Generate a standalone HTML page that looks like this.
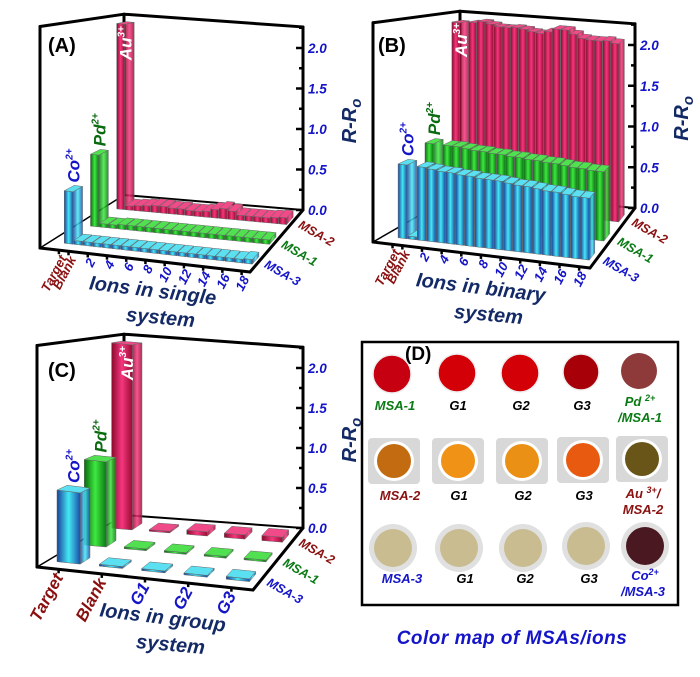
<!DOCTYPE html>
<html><head><meta charset="utf-8">
<style>
html,body{margin:0;padding:0;background:#fff;}
svg{display:block;font-family:"Liberation Sans",sans-serif;}
.tk{font-weight:bold;font-style:italic;fill:#1414c8;font-size:13.5px;}
.ttl{font-weight:900;font-style:italic;fill:#142a66;font-size:20px;}
</style></head>
<body>
<svg id="fig" width="700" height="677" viewBox="0 0 700 677" xmlns="http://www.w3.org/2000/svg">
<defs>
<linearGradient id="gC" x1="0" x2="1" y1="0" y2="0"><stop offset="0" stop-color="#1a3f9a"/><stop offset="0.5" stop-color="#44e8f4"/><stop offset="1" stop-color="#1a4fa8"/></linearGradient>
<linearGradient id="gP" x1="0" x2="1" y1="0" y2="0"><stop offset="0" stop-color="#0a6a10"/><stop offset="0.5" stop-color="#3ee840"/><stop offset="1" stop-color="#0b7a12"/></linearGradient>
<linearGradient id="gA" x1="0" x2="1" y1="0" y2="0"><stop offset="0" stop-color="#8a0a2c"/><stop offset="0.5" stop-color="#f6367e"/><stop offset="1" stop-color="#9a0c34"/></linearGradient>
</defs>
<g id="pA"></g>
<g id="pB"></g>
<g id="pC"></g>
<g id="pD">
  <rect x="362" y="342" width="316" height="263" fill="#fff" stroke="#000" stroke-width="2.5"/>
  <text x="405" y="360" font-size="19" font-weight="bold">(D)</text>
  <g>
    <circle cx="392" cy="374" r="19" fill="#c60010" stroke="#eee" stroke-width="1.5"/>
    <circle cx="457" cy="373" r="19" fill="#d40008" stroke="#eee" stroke-width="1.5"/>
    <circle cx="520" cy="373" r="19" fill="#d40008" stroke="#eee" stroke-width="1.5"/>
    <circle cx="581" cy="372" r="18" fill="#a80008" stroke="#eee" stroke-width="1.5"/>
    <circle cx="639" cy="371" r="18" fill="#8e3a3a"/>
  </g>
  <g>
    <rect x="368" y="438" width="52" height="46" rx="4" fill="#d8d8d8"/><circle cx="394" cy="461" r="20" fill="#fff"/><circle cx="394" cy="461" r="17" fill="#c26b10"/>
    <rect x="432" y="438" width="52" height="46" rx="4" fill="#d8d8d8"/><circle cx="458" cy="461" r="20" fill="#fff"/><circle cx="458" cy="461" r="17" fill="#ef9216"/>
    <rect x="496" y="438" width="52" height="46" rx="4" fill="#d8d8d8"/><circle cx="522" cy="461" r="20" fill="#fff"/><circle cx="522" cy="461" r="17" fill="#ea9015"/>
    <rect x="557" y="437" width="52" height="46" rx="4" fill="#d8d8d8"/><circle cx="583" cy="460" r="20" fill="#fff"/><circle cx="583" cy="460" r="17" fill="#e85a10"/>
    <rect x="616" y="436" width="52" height="46" rx="4" fill="#d8d8d8"/><circle cx="642" cy="459" r="20" fill="#fff"/><circle cx="642" cy="459" r="17" fill="#6a5518"/>
  </g>
  <g>
    <circle cx="393" cy="548" r="24" fill="#e0e0e0"/><circle cx="393" cy="548" r="19" fill="#c9bc90"/>
    <circle cx="459" cy="548" r="24" fill="#e0e0e0"/><circle cx="459" cy="548" r="19" fill="#c9bc90"/>
    <circle cx="523" cy="548" r="24" fill="#e0e0e0"/><circle cx="523" cy="548" r="19" fill="#c9bc90"/>
    <circle cx="586" cy="546" r="24" fill="#e0e0e0"/><circle cx="586" cy="546" r="19" fill="#c9bc90"/>
    <circle cx="645" cy="546" r="24" fill="#e0e0e0"/><circle cx="645" cy="546" r="19" fill="#4a1820"/>
  </g>
  <g font-weight="bold" font-style="italic" font-size="13" text-anchor="middle">
    <text x="395" y="410" fill="#0a7a14">MSA-1</text>
    <text x="458" y="410">G1</text>
    <text x="521" y="410">G2</text>
    <text x="582" y="410">G3</text>
    <text x="640" y="406" fill="#0a7a14">Pd <tspan font-size="9" dy="-5">2+</tspan></text>
    <text x="640" y="422" fill="#0a7a14">/MSA-1</text>
    <text x="400" y="500" fill="#8a1010">MSA-2</text>
    <text x="459" y="500">G1</text>
    <text x="523" y="500">G2</text>
    <text x="584" y="500">G3</text>
    <text x="643" y="498" fill="#8a1010">Au <tspan font-size="9" dy="-5">3+</tspan><tspan dy="5">/</tspan></text>
    <text x="643" y="514" fill="#8a1010">MSA-2</text>
    <text x="402" y="583" fill="#1414c8">MSA-3</text>
    <text x="465" y="583">G1</text>
    <text x="525" y="583">G2</text>
    <text x="589" y="583">G3</text>
    <text x="645" y="580" fill="#1414c8">Co<tspan font-size="9" dy="-5">2+</tspan></text>
    <text x="643" y="596" fill="#1414c8">/MSA-3</text>
  </g>
  <text x="512" y="644" text-anchor="middle" font-size="19" font-weight="900" font-style="italic" fill="#1414c8" letter-spacing="0.5">Color map of MSAs/ions</text>
</g>
</svg>
<script>
// ---- data ----
const rowsNames = ["MSA-3","MSA-1","MSA-2"];
const catsA = ["Target","Blank","1","2","3","4","5","6","7","8","9","10","11","12","13","14","15","16","17","18"];
const msa3A = [0.55,0.04,0.04,0.04,0.04,0.04,0.04,0.04,0.04,0.04,0.04,0.04,0.04,0.04,0.04,0.04,0.04,0.04,0.04,0.05];
const msa1A = [0.80,0.04,0.04,0.05,0.05,0.05,0.05,0.05,0.05,0.05,0.05,0.05,0.05,0.05,0.05,0.05,0.05,0.05,0.05,0.05];
const msa2A = [2.20,0.05,0.06,0.07,0.08,0.08,0.07,0.07,0.06,0.06,0.07,0.10,0.12,0.10,0.06,0.06,0.06,0.06,0.07,0.08];
const catsB = catsA;
const msa3B = [0.78,0.03,0.78,0.77,0.76,0.76,0.75,0.75,0.74,0.74,0.74,0.73,0.72,0.72,0.71,0.70,0.70,0.69,0.68,0.68];
const msa1B = [0.88,0.03,0.88,0.88,0.87,0.86,0.86,0.85,0.85,0.84,0.84,0.83,0.83,0.82,0.82,0.81,0.80,0.80,0.79,0.79];
const msa2B = [2.18,0.05,2.20,2.22,2.20,2.18,2.18,2.19,2.18,2.16,2.15,2.18,2.22,2.22,2.18,2.14,2.13,2.13,2.14,2.12];
const catsC = ["Target","Blank","G1","G2","G3"];
const msa3C = [0.75,0.02,0.02,0.02,0.03];
const msa1C = [0.95,0.02,0.02,0.02,0.02];
const msa2C = [2.20,0.02,0.05,0.05,0.06];
const yTicks = [0,0.5,1.0,1.5,2.0];
const yTickLabels = ["0.0","0.5","1.0","1.5","2.0"];

const NS="http://www.w3.org/2000/svg";
function mk(parent,tag,attrs){const e=document.createElementNS(NS,tag);for(const k in attrs)e.setAttribute(k,attrs[k]);parent.appendChild(e);return e;}

function panel(g,G,cats,series,tickCats,letter,title1,title2,tpos,barW){
  function floor(u,v){return [
    (1-u)*(1-v)*G.FL[0]+u*(1-v)*G.FR[0]+(1-u)*v*G.BL[0]+u*v*G.BR[0],
    (1-u)*(1-v)*G.FL[1]+u*(1-v)*G.FR[1]+(1-u)*v*G.BL[1]+u*v*G.BR[1]];}
  function kk(u,v){return (1-u)*(1-v)*G.kFL+u*(1-v)*G.kFR+(1-u)*v*G.kBL+u*v*G.kBR;}
  function P(u,v,h){const f=floor(u,v);return [f[0],f[1]-kk(u,v)*h];}
  const pt=p=>p[0].toFixed(1)+","+p[1].toFixed(1);
  const TOP=2.26;
  const fr=mk(g,"g",{});
  
  
  const line=(a,b,w)=>mk(fr,"line",{x1:a[0],y1:a[1],x2:b[0],y2:b[1],stroke:"#000","stroke-width":w,"stroke-linecap":"round"});
  line(P(0,0,0),P(0,0,TOP),3);line(P(0,0,TOP),P(0,1,TOP),3);line(P(0,1,0),P(0,1,TOP),3);
  line(P(0,1,TOP),P(1,1,TOP),3);line(P(1,1,0),P(1,1,TOP),3);
  line(P(0,1,0),P(1,1,0),2);line(P(0,0,0),P(0,1,0),1.5);
  line(P(0,0,0),P(1,0,0),3);line(P(1,0,0),P(1,1,0),3);
  for(let i=0;i<=9;i++){const h=i*0.25;const a=P(1,1,h);mk(fr,"line",{x1:a[0]-(i%2?4:7),y1:a[1],x2:a[0],y2:a[1],stroke:"#000","stroke-width":2.5});}
  yTicks.forEach((t,i)=>{const a=P(1,1,t);const tx=mk(g,"text",{x:a[0]+5,y:a[1]+5,class:"tk"});tx.textContent=yTickLabels[i];
    
    });
  const yt=P(1,1,1.1);
  const ytitle=mk(g,"text",{x:0,y:0,transform:`translate(${yt[0]+53},${yt[1]}) rotate(-90)`,"text-anchor":"middle",class:"ttl","font-size":"22"});
  ytitle.textContent='R-R';
  const sub=mk(ytitle,"tspan",{"font-size":"15",dy:"5"});sub.textContent='o';
  
  
  const pl=mk(g,"text",{x:G.letter[0],y:G.letter[1],"font-size":"20","font-weight":"bold"});pl.textContent=letter;
  
  
  const n=cats.length;
  const rowV=[0.18,0.5,0.82], fills=["url(#gC)","url(#gP)","url(#gA)"], tops=["#5ae0f0","#50e050","#f04a88"];
  const u0=G.u0,u1=G.u1;
  const uAt=i=>n>1?u0+i*(u1-u0)/(n-1):u0;
  for(let r=2;r>=0;r--){
    const vals=series[r];
    for(let i=0;i<n;i++){
      const uc=uAt(i),vc=rowV[r],du=barW/2,dv=0.06,h=vals[i];
      const a=P(uc-du,vc-dv,0),b=P(uc+du,vc-dv,0),c=P(uc+du,vc-dv,h),d=P(uc-du,vc-dv,h);
      const e=P(uc+du,vc+dv,h),f=P(uc-du,vc+dv,h),s0=P(uc+du,vc+dv,0);
      const grp=mk(g,"g",{});
      
      
      mk(grp,"polygon",{points:[b,s0,e,c].map(pt).join(" "),fill:fills[r],stroke:"#666","stroke-width":0.5,opacity:0.85});
      mk(grp,"polygon",{points:[a,b,c,d].map(pt).join(" "),fill:fills[r],stroke:"#666","stroke-width":0.5});
      mk(grp,"polygon",{points:[d,c,e,f].map(pt).join(" "),fill:tops[r],stroke:"#666","stroke-width":0.5});
    }
  }
  const ions=[["Co","2+","#1414c8"],["Pd","2+","#0a6a10"],["Au","3+","#fff"]];
  ions.forEach((io,r)=>{const hv=series[r][0];const p=P(uAt(0),rowV[r],hv);
    const inside=(r===2);
    const y=inside? P(uAt(0),rowV[r],TOP-0.05)[1]+4 : p[1]-6;
    const t=mk(g,"text",{transform:`translate(${p[0]+6},${y}) rotate(-90)`,"text-anchor":inside?"end":"start","font-size":"17","font-weight":"bold","font-style":"italic",fill:io[2]});
    t.textContent=io[0];
    const sp=mk(t,"tspan",{"font-size":"10",dy:"-7"});sp.textContent=io[1];
    
    });
  tickCats.forEach(tc=>{const i=tc[0];const p=P(uAt(i),0,0);
    mk(fr,"line",{x1:p[0],y1:p[1],x2:p[0],y2:p[1]+4,stroke:"#000","stroke-width":2.5});
    const big=tc[2];
    const t=mk(g,"text",{transform:`translate(${p[0]+(big?5:8)},${p[1]+8}) rotate(-62)`,"text-anchor":"end","font-size":big?17:13,"font-weight":"bold","font-style":"italic",fill:tc[3]||"#1414c8"});
    t.textContent=tc[1];
    
    });
  const rc=["#1414c8","#0a7a14","#8a1010"];
  rowV.forEach((v,r)=>{const p=P(1,v,0);const t=mk(g,"text",{transform:`translate(${p[0]+4},${p[1]+6}) rotate(30)`,"font-size":"12.5","font-weight":"bold","font-style":"italic",fill:rc[r]});
    t.textContent=rowsNames[r];
    
    });
  const t1=mk(g,"text",{x:tpos[0],y:tpos[1],class:"ttl","text-anchor":"middle",transform:`rotate(7 ${tpos[0]} ${tpos[1]})`});t1.textContent=title1;
  
  
  const t2=mk(g,"text",{x:tpos[0]+8,y:tpos[1]+27,class:"ttl","text-anchor":"middle",transform:`rotate(5 ${tpos[0]+8} ${tpos[1]+27})`});t2.textContent=title2;
  
  
}
const tickAB=[[0,"Target",false,"#8a1010"],[1,"Blank",false,"#8a1010"]];
for(let k=2;k<=18;k+=2)tickAB.push([k+1,String(k)]);
panel(document.getElementById("pA"),{FL:[40,248],FR:[250,272],BL:[124,195],BR:[303,210],kFL:98,kFR:92,kBL:80,kBR:81,u0:0.09,u1:0.96,letter:[48,52]},
  catsA,[msa3A,msa1A,msa2A],tickAB,"(A)","Ions in single","system",[152,297],0.042);
panel(document.getElementById("pB"),{FL:[373,242],FR:[590,268],BL:[460,192],BR:[635,208],kFL:97,kFR:92,kBL:80,kBR:81.5,u0:0.09,u1:0.95,letter:[378,52]},
  catsB,[msa3B,msa1B,msa2B],tickAB,"(B)","Ions in binary","system",[480,294],0.042);
panel(document.getElementById("pC"),{FL:[37,567],FR:[253,590],BL:[124,515],BR:[303,528],kFL:98,kFR:92,kBL:80,kBR:80,u0:0.1,u1:0.9,letter:[48,377]},
  catsC,[msa3C,msa1C,msa2C],[[0,"Target",true,"#8a1010"],[1,"Blank",true,"#8a1010"],[2,"G1",true],[3,"G2",true],[4,"G3",true]],"(C)","Ions in group","system",[162,624],0.11);
</script>
</body></html>
